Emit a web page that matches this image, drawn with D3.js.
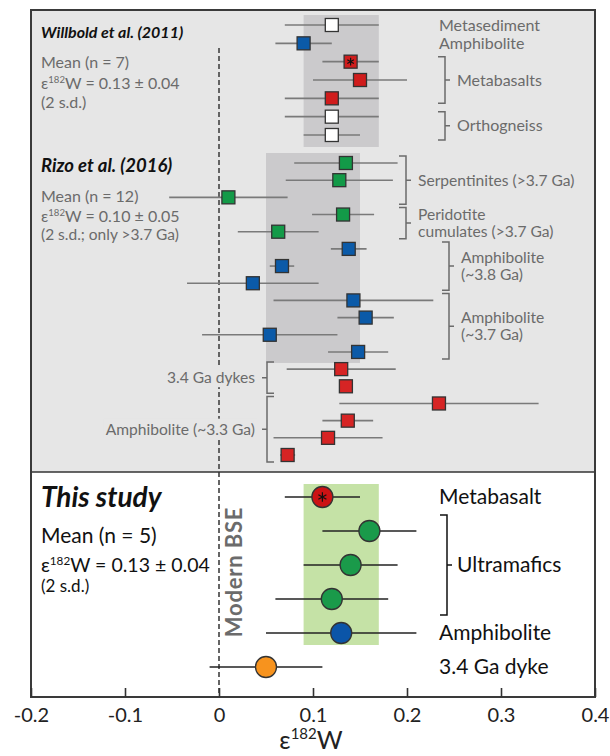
<!DOCTYPE html>
<html>
<head>
<meta charset="utf-8">
<script src="https://cdn.jsdelivr.net/npm/d3@7"></script>
<style>
  body { margin: 0; background: #fff; }
  svg text { font-family: Lato, "Open Sans", sans-serif; }
</style>
</head>
<body>
<svg id="chart" width="610" height="756"></svg>
<script>
// ---- data ----
var xTicks = [-0.2, -0.1, 0, 0.1, 0.2, 0.3, 0.4];

// Willbold et al. (2011)
var willboldVal = [0.12, 0.09, 0.14, 0.15, 0.12, 0.12, 0.12];
var willboldErr = [0.05, 0.03, 0.03, 0.05, 0.05, 0.05, 0.03];
var willboldType = ["metasediment", "amphibolite", "metabasalt", "metabasalt", "metabasalt", "orthogneiss", "orthogneiss"];
var willboldStar = [0, 0, 1, 0, 0, 0, 0];
var willboldMean = [0.13, 0.04];
var willboldGroups = [
  {label: ["Metasediment"], first: 0, last: 0},
  {label: ["Amphibolite"], first: 1, last: 1},
  {label: ["Metabasalts"], first: 2, last: 4},
  {label: ["Orthogneiss"], first: 5, last: 6}
];

// Rizo et al. (2016)
var rizoVal = [0.135, 0.128, 0.01, 0.132, 0.063, 0.138, 0.067, 0.036, 0.143, 0.156, 0.054, 0.148, 0.13, 0.135, 0.234, 0.137, 0.116, 0.073];
var rizoErr = [0.055, 0.057, 0.063, 0.033, 0.043, 0.019, 0.013, 0.07, 0.085, 0.03, 0.072, 0.032, 0.058, 0.007, 0.106, 0.027, 0.058, 0.008];
var rizoType = ["serpentinite", "serpentinite", "serpentinite", "peridotite", "peridotite",
                "amph38", "amph38", "amph38", "amph37", "amph37", "amph37", "amph37",
                "dyke", "dyke", "amph33", "amph33", "amph33", "amph33"];
var rizoMean = [0.10, 0.05];
var rizoOldTypes = ["serpentinite", "peridotite", "amph38", "amph37"];
var rizoGroups = [
  {label: ["Serpentinites (>3.7 Ga)"], first: 0, last: 2},
  {label: ["Peridotite", "cumulates (>3.7 Ga)"], first: 3, last: 4},
  {label: ["Amphibolite", "(~3.8 Ga)"], first: 5, last: 7},
  {label: ["Amphibolite", "(~3.7 Ga)"], first: 8, last: 11},
  {label: ["3.4 Ga dykes"], first: 12, last: 13},
  {label: ["Amphibolite (~3.3 Ga)"], first: 14, last: 17}
];

// This study
var studyVal = [0.11, 0.16, 0.14, 0.12, 0.13, 0.05];
var studyErr = [0.04, 0.05, 0.05, 0.06, 0.08, 0.06];
var studyType = ["metabasalt", "ultramafic", "ultramafic", "ultramafic", "amphibolite", "dyke"];
var studyStar = [1, 0, 0, 0, 0, 0];
var studyMean = [0.13, 0.04];
var studyGroups = [
  {label: ["Metabasalt"], first: 0, last: 0},
  {label: ["Ultramafics"], first: 1, last: 3},
  {label: ["Amphibolite"], first: 4, last: 4},
  {label: ["3.4 Ga dyke"], first: 5, last: 5}
];

// ---- layout / styles ----
var box = {left: 31, right: 595, top: 10, mid: 472, bottom: 697};
var upperBg = "#e6e6e6";
var grayTxt = "#6b6b6b";
var squareFill = {
  metasediment: "#ffffff", orthogneiss: "#ffffff", amphibolite: "#0b5aa8",
  metabasalt: "#d01c1c", serpentinite: "#139a48", peridotite: "#139a48",
  amph38: "#0b5aa8", amph37: "#0b5aa8", dyke: "#d62424", amph33: "#d62424"
};
var circleFill = {metabasalt: "#cc1214", ultramafic: "#1a9a4a", amphibolite: "#0b55a8", dyke: "#f7931e"};
// bracket x position and side (1 = label on right, -1 = label on left, 0 = no bracket)
var willboldBracket = [[439, 0], [439, 0], [445, 1], [445, 1]];
var rizoBracket = [[406, 1], [406, 1], [449, 1], [449, 1], [267, -1], [267, -1]];
var studyBracket = [[439, 0], [447, 1], [439, 0], [439, 0]];

var svg = d3.select("#chart");

var x = d3.scaleLinear()
          .domain([xTicks[0], xTicks[xTicks.length - 1]])
          .range([box.left, box.right]);

var yW = d3.scalePoint().domain(d3.range(willboldVal.length)).range([25, 135]);
var yR = d3.scalePoint().domain(d3.range(rizoVal.length)).range([163, 455]);
var yS = d3.scalePoint().domain(d3.range(studyVal.length)).range([497, 667]);

var studyMeanRows = d3.range(studyVal.length).filter(function(i){ return studyType[i] != "dyke"; });
var rizoMeanRows = d3.range(rizoVal.length).filter(function(i){ return rizoOldTypes.indexOf(rizoType[i]) >= 0; });

// panels
svg.append("rect")
   .attr("x", box.left).attr("y", box.top)
   .attr("width", box.right - box.left).attr("height", box.mid - box.top)
   .attr("fill", upperBg);
svg.append("rect")
   .attr("x", box.left).attr("y", box.mid)
   .attr("width", box.right - box.left).attr("height", box.bottom - box.mid)
   .attr("fill", "#fff");

// mean bands
function band(mean, rows, yScale, padTop, padBottom, fill){
  svg.append("rect")
     .attr("x", x(mean[0] - mean[1]))
     .attr("width", x(mean[0] + mean[1]) - x(mean[0] - mean[1]))
     .attr("y", yScale(d3.min(rows)) - padTop)
     .attr("height", yScale(d3.max(rows)) - yScale(d3.min(rows)) + padTop + padBottom)
     .attr("fill", fill);
}
band(willboldMean, d3.range(willboldVal.length), yW, 10, 12, "#cbcacc");
band(rizoMean, rizoMeanRows, yR, 10, 11, "#cbcacc");
band(studyMean, studyMeanRows, yS, 13, 12, "#c5e2a6");

// Modern BSE line
svg.append("line")
   .attr("x1", x(0)).attr("x2", x(0))
   .attr("y1", 48).attr("y2", box.bottom)
   .attr("stroke", "#555").attr("stroke-width", 1.8)
   .attr("stroke-dasharray", "5,3");

svg.append("text")
   .attr("transform", "translate(" + (x(0) + 23) + "," + 572 + ") rotate(-90)")
   .attr("text-anchor", "middle")
   .attr("font-size", 22).attr("font-weight", "bold")
   .attr("letter-spacing", 0.8)
   .attr("fill", grayTxt)
   .text("Modern BSE");

// error bars + markers
function drawRows(vals, errs, types, stars, yScale, opt){
  var g = svg.append("g");
  g.selectAll("line.err").data(vals).enter().append("line")
   .attr("class", "err")
   .attr("x1", function(d, i){ return x(d - errs[i]); })
   .attr("x2", function(d, i){ return x(d + errs[i]); })
   .attr("y1", function(d, i){ return yScale(i); })
   .attr("y2", function(d, i){ return yScale(i); })
   .attr("stroke", opt.barColor).attr("stroke-width", opt.barWidth);

  if(opt.shape == "square"){
    g.selectAll("rect.pt").data(vals).enter().append("rect")
     .attr("class", "pt")
     .attr("x", function(d){ return x(d) - opt.size / 2; })
     .attr("y", function(d, i){ return yScale(i) - opt.size / 2; })
     .attr("width", opt.size).attr("height", opt.size)
     .attr("fill", function(d, i){ return opt.fill[types[i]]; })
     .attr("stroke", "#333").attr("stroke-width", 1.3);
  }else{
    g.selectAll("circle.pt").data(vals).enter().append("circle")
     .attr("class", "pt")
     .attr("cx", function(d){ return x(d); })
     .attr("cy", function(d, i){ return yScale(i); })
     .attr("r", opt.size / 2)
     .attr("fill", function(d, i){ return opt.fill[types[i]]; })
     .attr("stroke", "#333").attr("stroke-width", 1.3);
  }

  if(stars){
    var starRows = d3.range(vals.length).filter(function(i){ return stars[i]; });
    g.selectAll("path.star").data(starRows).enter().append("path")
     .attr("class", "star")
     .attr("d", d3.symbol(d3.symbolAsterisk, opt.starSize))
     .attr("transform", function(i){
       return "translate(" + x(vals[i]) + "," + yScale(i) + ")";
     })
     .attr("fill", "none").attr("stroke", "#111").attr("stroke-width", 1.2);
  }
}
drawRows(willboldVal, willboldErr, willboldType, willboldStar, yW,
         {shape: "square", size: 13, fill: squareFill, barColor: "#7a7a7a", barWidth: 1.6, starSize: 40});
drawRows(rizoVal, rizoErr, rizoType, null, yR,
         {shape: "square", size: 13, fill: squareFill, barColor: "#7a7a7a", barWidth: 1.6});
drawRows(studyVal, studyErr, studyType, studyStar, yS,
         {shape: "circle", size: 21, fill: circleFill, barColor: "#222", barWidth: 1.3, starSize: 60});

// group labels with brackets
function groupLabels(groups, brackets, yScale, opt){
  groups.forEach(function(grp, k){
    var bx = brackets[k][0], side = brackets[k][1];
    var y0 = yScale(grp.first), y1 = yScale(grp.last);
    var mid = (y0 + y1) / 2;
    var tx = bx;
    if(side != 0){
      var b0 = y0 - opt.pad, b1 = y1 + opt.pad;
      var t = 7 * side;
      svg.append("path")
         .attr("d", "M" + (bx - t) + "," + b0 + "H" + bx + "V" + b1 + "H" + (bx - t) +
                    "M" + bx + "," + mid + "H" + (bx + 5 * side))
         .attr("fill", "none").attr("stroke", opt.color).attr("stroke-width", 1.5);
      tx = bx + opt.gap * side;
    }
    var lh = opt.lineHeight;
    var txt = svg.append("text")
       .attr("x", tx)
       .attr("y", mid - (grp.label.length - 1) * lh / 2)
       .attr("font-size", opt.fontSize)
       .attr("fill", opt.color)
       .attr("text-anchor", side < 0 ? "end" : "start");
    grp.label.forEach(function(line, j){
      txt.append("tspan").attr("x", tx).attr("dy", j == 0 ? "0.35em" : lh).text(line);
    });
    if(side < 0){
      var bb = txt.node().getBBox();
      svg.insert("rect", function(){ return txt.node(); })
         .attr("x", bb.x - 2).attr("y", bb.y - 1)
         .attr("width", bb.width + 4).attr("height", bb.height + 2)
         .attr("fill", upperBg);
    }
  });
}
groupLabels(willboldGroups, willboldBracket, yW, {pad: 5, gap: 12, color: grayTxt, fontSize: 16, lineHeight: 16});
groupLabels(rizoGroups, rizoBracket, yR, {pad: 7, gap: 12, color: grayTxt, fontSize: 15.6, lineHeight: 17});
groupLabels(studyGroups, studyBracket, yS, {pad: 16, gap: 10, color: "#111", fontSize: 21, lineHeight: 20});

// left-hand statistics blocks
function epsLine(sel, mean, fs){
  sel.append("tspan").text("ε");
  sel.append("tspan").attr("font-size", fs * 0.6).attr("dy", -fs * 0.38).text("182");
  sel.append("tspan").attr("dy", fs * 0.38).text("W = " + mean[0].toFixed(2) + " ± " + mean[1].toFixed(2));
}
function statBlock(title, n, mean, sdNote, y, o){
  svg.append("text").attr("x", 41).attr("y", y)
     .attr("font-size", o.titleSize).attr("font-weight", "bold").attr("font-style", "italic")
     .attr("fill", "#111").text(title);
  svg.append("text").attr("x", 41).attr("y", y + o.l1)
     .attr("font-size", o.size).attr("fill", o.color)
     .text("Mean (n = " + n + ")");
  epsLine(svg.append("text").attr("x", 41).attr("y", y + o.l2)
             .attr("font-size", o.epsSize).attr("fill", o.color), mean, o.epsSize);
  svg.append("text").attr("x", 41).attr("y", y + o.l3)
     .attr("font-size", o.noteSize).attr("fill", o.color)
     .text(sdNote);
}
statBlock("Willbold et al. (2011)", willboldVal.length, willboldMean, "(2 s.d.)", 38,
          {titleSize: 16, size: 16, epsSize: 16, noteSize: 16, color: grayTxt, l1: 30, l2: 51, l3: 70});
statBlock("Rizo et al. (2016)", rizoMeanRows.length, rizoMean, "(2 s.d.; only >3.7 Ga)", 172,
          {titleSize: 18.5, size: 16, epsSize: 16, noteSize: 15.5, color: grayTxt, l1: 30, l2: 50, l3: 68});
statBlock("This study", studyMeanRows.length, studyMean, "(2 s.d.)", 507,
          {titleSize: 28, size: 21, epsSize: 19.5, noteSize: 17, color: "#111", l1: 36, l2: 65, l3: 85});

// frame
svg.append("line")
   .attr("x1", box.left).attr("x2", box.right)
   .attr("y1", box.mid).attr("y2", box.mid)
   .attr("stroke", "#333").attr("stroke-width", 1.6);
svg.append("rect")
   .attr("x", box.left).attr("y", box.top)
   .attr("width", box.right - box.left).attr("height", box.bottom - box.top)
   .attr("fill", "none").attr("stroke", "#3a3a3a").attr("stroke-width", 2);

// x axis
var axis = svg.append("g")
   .attr("transform", "translate(0," + box.bottom + ")")
   .call(d3.axisBottom(x).tickValues(xTicks).tickSize(-9).tickSizeOuter(0).tickPadding(11)
           .tickFormat(function(d){ return d == 0 ? "0" : d.toFixed(1); }));
axis.select(".domain").remove();
axis.selectAll(".tick line").attr("stroke", "#333").attr("stroke-width", 1.6);
axis.selectAll(".tick text")
    .attr("font-size", 20).attr("fill", "#222")
    .style("font-family", "Lato, 'Open Sans', sans-serif");

var xt = svg.append("text")
   .attr("x", (box.left + box.right) / 2 - 2).attr("y", 749)
   .attr("text-anchor", "middle").attr("font-size", 25).attr("fill", "#222");
xt.append("tspan").text("ε");
xt.append("tspan").attr("font-size", 15).attr("dy", -10).text("182");
xt.append("tspan").attr("dy", 10).text("W");
</script>
</body>
</html>
